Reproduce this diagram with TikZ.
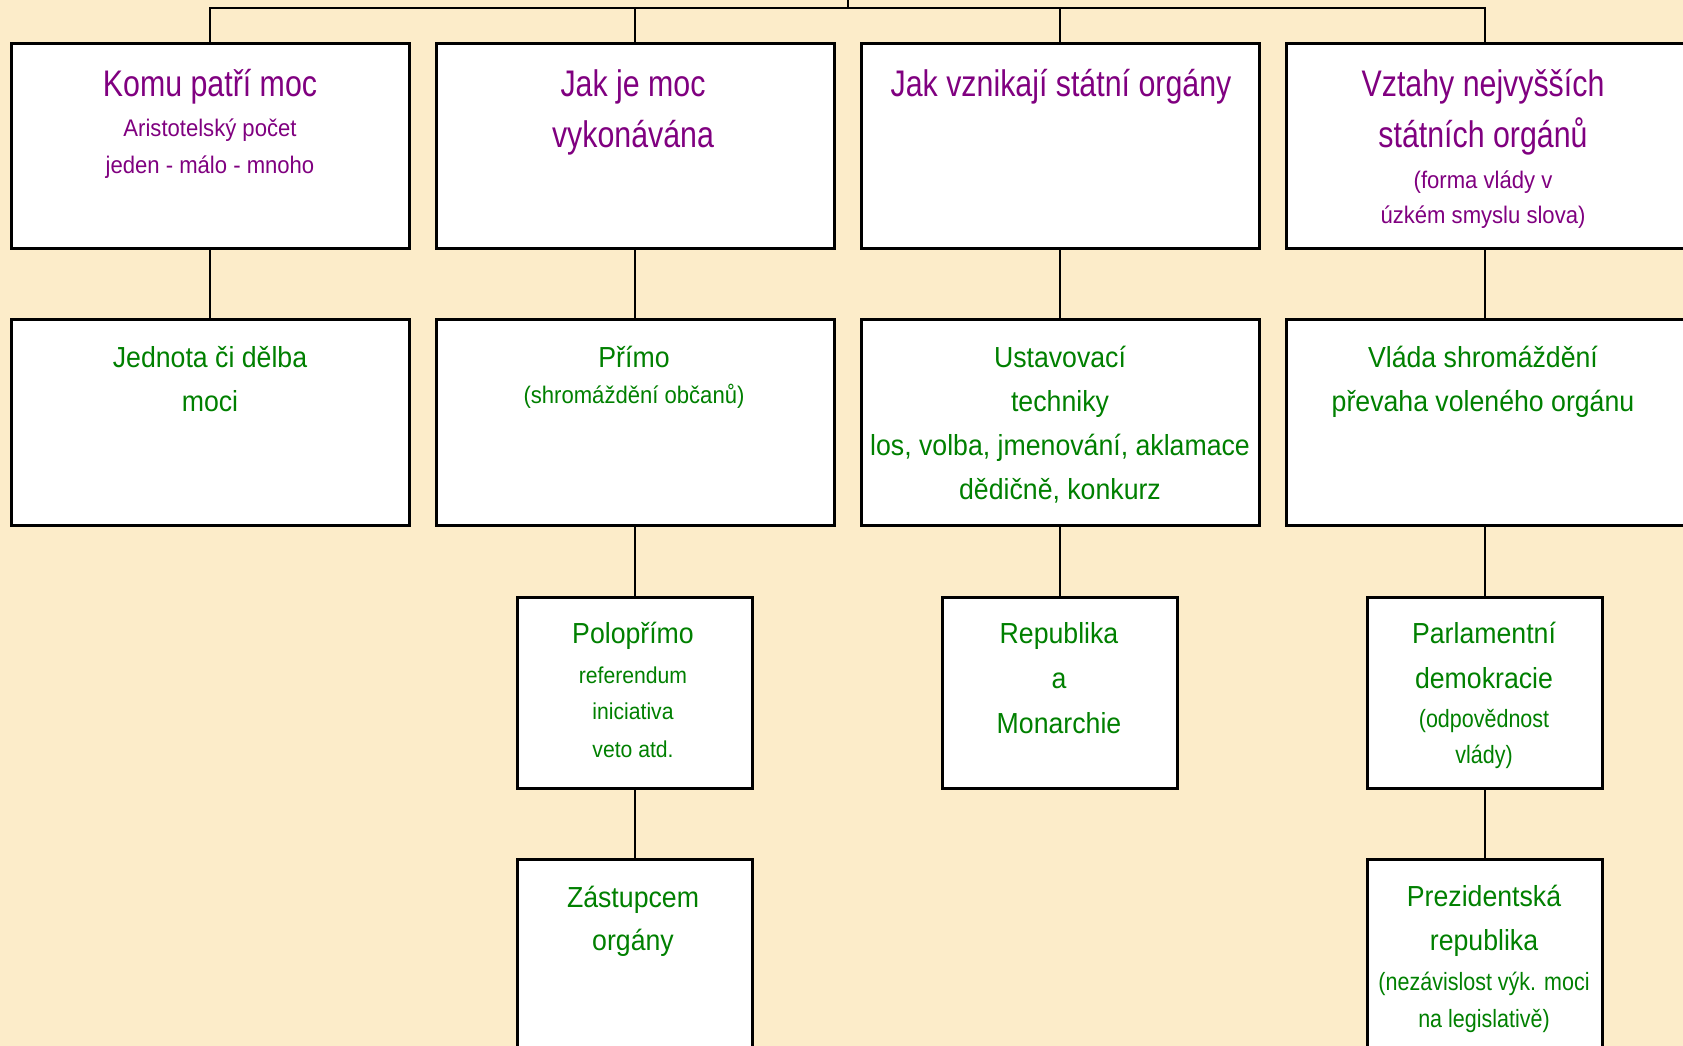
\documentclass[tikz,border=0pt]{standalone}
\usepackage{fontspec}
\setmainfont{Liberation Sans}[FakeStretch=0.88]
\newfontfamily\fsA{Liberation Sans}[FakeStretch=0.82]
\newfontfamily\fsB{Liberation Sans}[FakeStretch=0.92]
\newfontfamily\fsC{Liberation Sans}[FakeStretch=0.86]
\definecolor{bg}{RGB}{252,236,201}
\definecolor{tpurple}{RGB}{128,0,128}
\definecolor{tgreen}{RGB}{0,128,0}
\begin{document}
\begin{tikzpicture}[x=1pt,y=-1pt,
  box/.style={draw=black, line width=3pt, fill=white, rectangle, inner sep=0pt, minimum width=#1},
  wbox/.style={box=398pt},
  nbox/.style={box=235pt},
  conn/.style={draw=black, line width=2.3pt},
  txt/.style={anchor=base, inner sep=0pt},
  bigP/.style={txt, text=tpurple, font=\fsA\fontsize{37}{37}\selectfont},
  smallP/.style={txt, text=tpurple, font=\fsB\fontsize{24}{24}\selectfont},
  bigG/.style={txt, text=tgreen, font=\fsB\fontsize{29}{29}\selectfont},
  midG/.style={txt, text=tgreen, font=\fsC\fontsize{25}{25}\selectfont},
  smallG/.style={txt, text=tgreen, font=\fsB\fontsize{23}{23}\selectfont},
  parenG/.style={txt, text=tgreen, font=\fsB\fontsize{24}{24}\selectfont}]
\useasboundingbox (0,0) rectangle (1683,1046);
\fill[bg] (0,0) rectangle (1683,1046);
\clip (0,0) rectangle (1683,1046);

% row 1
\node[wbox, minimum height=204pt] (r1a) at (210,146) {};
\node[wbox, minimum height=204pt] (r1b) at (635,146) {};
\node[wbox, minimum height=204pt] (r1c) at (1060,146) {};
\node[wbox, minimum height=204pt] (r1d) at (1485,146) {};
% row 2
\node[wbox, minimum height=206pt] (r2a) at (210,422) {};
\node[wbox, minimum height=206pt] (r2b) at (635,422) {};
\node[wbox, minimum height=206pt] (r2c) at (1060,422) {};
\node[wbox, minimum height=206pt] (r2d) at (1485,422) {};
% row 3
\node[nbox, minimum height=191pt] (r3b) at (635,692.5) {};
\node[nbox, minimum height=191pt] (r3c) at (1060,692.5) {};
\node[nbox, minimum height=191pt] (r3d) at (1485,692.5) {};
% row 4
\node[nbox, minimum height=250pt] (r4b) at (635,984) {};
\node[nbox, minimum height=250pt] (r4d) at (1485,984) {};

% connectors
\coordinate (topend) at (848,0);
\coordinate (bus) at (848,8);
\draw[conn] (r1a.north) -- (r1a.north |- bus) -- (r1d.north |- bus) -- (r1d.north);
\draw[conn] (r1b.north) -- (r1b.north |- bus);
\draw[conn] (r1c.north) -- (r1c.north |- bus);
\draw[conn] (bus) -- (topend);
\draw[conn] (r1a.south) -- (r2a.north);
\draw[conn] (r1b.south) -- (r2b.north);
\draw[conn] (r1c.south) -- (r2c.north);
\draw[conn] (r1d.south) -- (r2d.north);
\draw[conn] (r2b.south) -- (r3b.north);
\draw[conn] (r2c.south) -- (r3c.north);
\draw[conn] (r2d.south) -- (r3d.north);
\draw[conn] (r3b.south) -- (r4b.north);
\draw[conn] (r3d.south) -- (r4d.north);

% texts row 1
\node[bigP] (t1a1) at (210,97) {Komu patří moc};
\node[smallP] (t1a2) at (210,136) {Aristotelský počet};
\node[smallP] (t1a3) at (210,173) {jeden - málo - mnoho};
\node[bigP] (t1b1) at (633,97) {Jak je moc};
\node[bigP] (t1b2) at (633,147) {vykonávána};
\node[bigP] (t1c1) at (1061,97) {Jak vznikají státní orgány};
\node[bigP] (t1d1) at (1483,97) {Vztahy nejvyšších};
\node[bigP] (t1d2) at (1483,147) {státních orgánů};
\node[smallP] (t1d3) at (1483,188) {(forma vlády v};
\node[smallP] (t1d4) at (1483,223) {úzkém smyslu slova)};

% texts row 2
\node[bigG] (t2a1) at (210,367) {Jednota či dělba};
\node[bigG] (t2a2) at (210,411) {moci};
\node[bigG] (t2b1) at (634,367) {Přímo};
\node[parenG] (t2b2) at (634,403) {(shromáždění občanů)};
\node[bigG] (t2c1) at (1060,367) {Ustavovací};
\node[bigG] (t2c2) at (1060,411) {techniky};
\node[bigG] (t2c3) at (1060,455) {los, volba, jmenování, aklamace};
\node[bigG] (t2c4) at (1060,499) {dědičně, konkurz};
\node[bigG] (t2d1) at (1483,367) {Vláda shromáždění};
\node[bigG] (t2d2) at (1483,411) {převaha voleného orgánu};

% texts row 3
\node[bigG] (t3b1) at (633,643) {Polopřímo};
\node[smallG] (t3b2) at (633,683) {referendum};
\node[smallG] (t3b3) at (633,719) {iniciativa};
\node[smallG] (t3b4) at (633,757) {veto atd.};
\node[bigG] (t3c1) at (1059,643) {Republika};
\node[bigG] (t3c2) at (1059,688) {a};
\node[bigG] (t3c3) at (1059,733) {Monarchie};
\node[bigG] (t3d1) at (1484,643) {Parlamentní};
\node[bigG] (t3d2) at (1484,688) {demokracie};
\node[midG] (t3d3) at (1484,727) {(odpovědnost};
\node[midG] (t3d4) at (1484,763) {vlády)};

% texts row 4
\node[bigG] (t4b1) at (633,907) {Zástupcem};
\node[bigG] (t4b2) at (633,950) {orgány};
\node[bigG] (t4d1) at (1484,906) {Prezidentská};
\node[bigG] (t4d2) at (1484,950) {republika};
\node[midG] (t4d3) at (1484,990) {(nezávislost výk. moci};
\node[midG] (t4d4) at (1484,1027) {na legislativě)};
\end{tikzpicture}
\end{document}
